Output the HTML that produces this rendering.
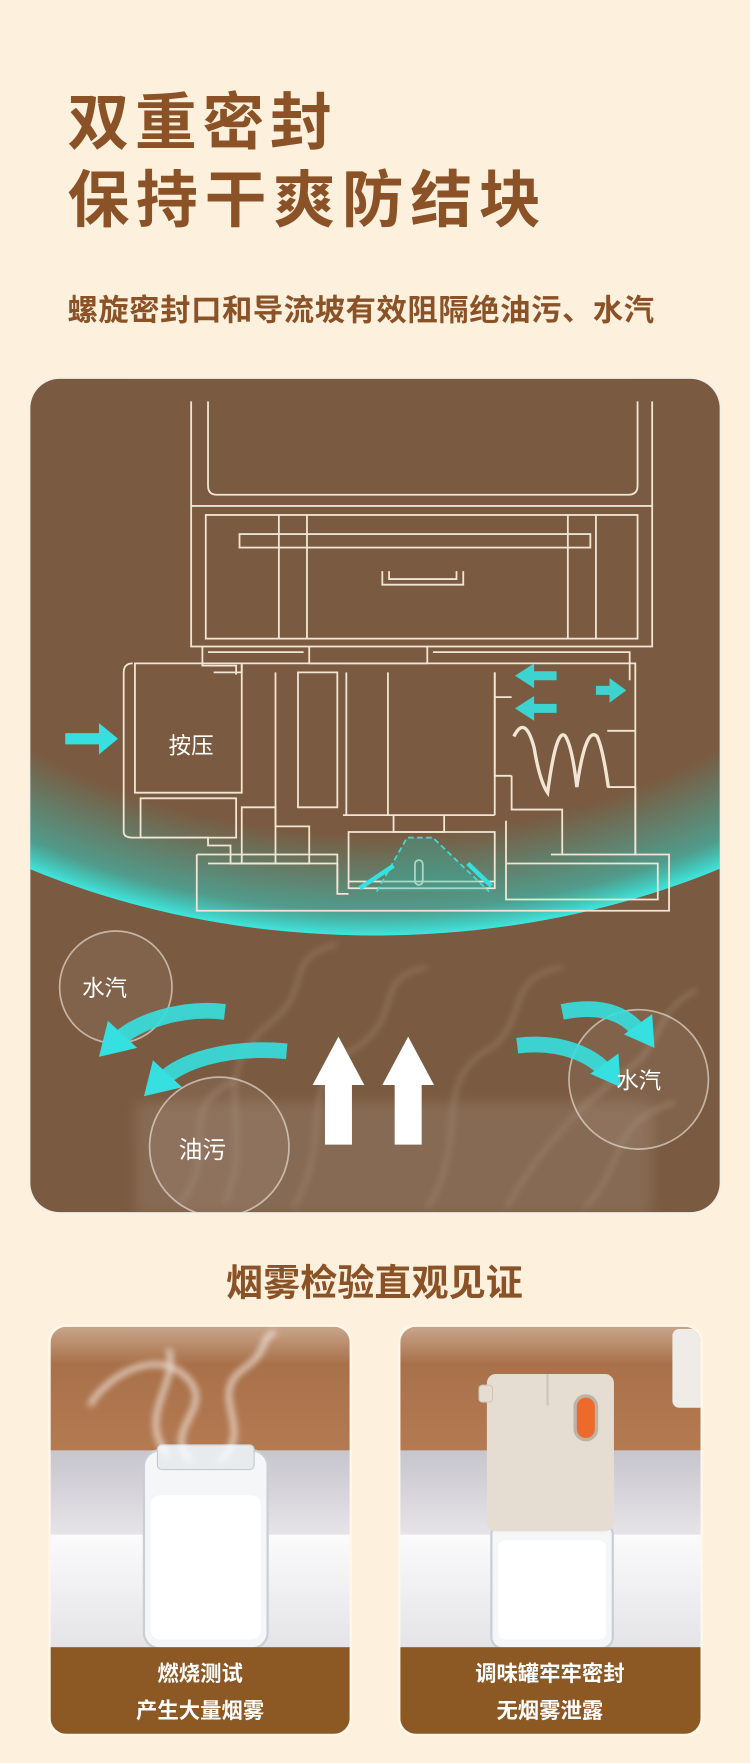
<!DOCTYPE html>
<html><head><meta charset="utf-8"><style>
html,body{margin:0;padding:0;background:#fdf1de;}
svg{display:block;}
text{font-family:"Liberation Sans","Noto Sans CJK SC",sans-serif;}
</style></head><body>
<svg width="750" height="1763" viewBox="0 0 667 1568" preserveAspectRatio="none" xmlns="http://www.w3.org/2000/svg">
<defs>
<radialGradient id="glow" cx="50%" cy="50%" r="50%">
<stop offset="0.8" stop-color="#2fd0c8" stop-opacity="0"/>
<stop offset="0.95" stop-color="#2fd0c8" stop-opacity="0.55"/>
<stop offset="1" stop-color="#3fe6dc" stop-opacity="1"/>
</radialGradient>
<linearGradient id="wood" x1="0" y1="0" x2="0" y2="1">
<stop offset="0" stop-color="#c8a58a"/><stop offset="0.3" stop-color="#a9714a"/><stop offset="1" stop-color="#b47a52"/>
</linearGradient>
<linearGradient id="wall" x1="0" y1="0" x2="0" y2="1">
<stop offset="0" stop-color="#c7c5cd"/><stop offset="1" stop-color="#e6e4e8"/>
</linearGradient>
<linearGradient id="table" x1="0" y1="0" x2="0" y2="1">
<stop offset="0" stop-color="#fbfbfc"/><stop offset="1" stop-color="#e2e1e4"/>
</linearGradient>
<filter id="blur"><feGaussianBlur stdDeviation="3"/></filter>
<filter id="blur2"><feGaussianBlur stdDeviation="6"/></filter>
<clipPath id="pc"><rect x="27" y="337" width="613" height="741" rx="26"/></clipPath>
<clipPath id="c1"><rect x="45" y="1180" width="266" height="362" rx="14"/></clipPath>
<clipPath id="c2"><rect x="356" y="1180" width="267" height="362" rx="14"/></clipPath>
</defs>
<rect width="667" height="1568" fill="#fdf1de"/>
<text x="60" y="128" font-size="55" font-weight="bold" fill="#8a5226" letter-spacing="5">双重密封</text>
<text x="60" y="197" font-size="55" font-weight="bold" fill="#8a5226" letter-spacing="6">保持干爽防结块</text>
<text x="60" y="285" font-size="27" font-weight="bold" fill="#8a5226" letter-spacing="0.5">螺旋密封口和导流坡有效阻隔绝油污、水汽</text>

<!-- panel -->
<rect x="25" y="335" width="617" height="745" rx="28" fill="#f4f0e4"/>
<rect x="27" y="337" width="613" height="741" rx="26" fill="#7a5a40"/>
<g clip-path="url(#pc)">
<ellipse cx="333" cy="380" rx="620" ry="452" fill="url(#glow)"/>
<g fill="none" stroke="#f1e6d6" stroke-width="1.6">
<path d="M170 357 V450 M580 357 V450"/>
<path d="M185 357 V432 Q185 440 193 440 H559 Q567 440 567 432 V357"/>
<rect x="170" y="450" width="410" height="125"/>
<rect x="183" y="458" width="384" height="110"/>
<rect x="213" y="475" width="312" height="12"/>
<path d="M248 458 V568 M273 458 V568 M505 458 V568 M530 458 V568"/>
<path d="M340 508 V520 H412 V508 M346 508 V515 H406 V508"/>
<path d="M180 575 V592 H210 V600 M275 575 V590 H380 V575 M185 580 H270 M385 580 H560 V605"/>
<path d="M215 590 H565 V760"/>
<path d="M190 598 H215 V590"/>
<path d="M120 590 H215 V705 H120 Z M110 598 Q110 590 118 590 M110 598 V740 Q110 745 118 745 H185 V752 H205 V768 H245"/>
<path d="M125 710 H210 V745 H125 Z"/>
<path d="M245 598 V768 M265 598 H300 V718 H265 Z M308 598 V725 M345 598 V725 M305 725 H440 M440 598 V725"/>
<path d="M440 598 V690 H455 M440 620 H455 M455 690 V720 H500 V760"/>
<path d="M540 650 H565 M540 700 H565 V760 H490"/>
<path d="M215 718 H245 V735 H275 V768 H215 Z"/>
<path d="M310 740 H440 V790 H310 Z M310 784 H440"/>
<path d="M175 760 H300 V795 H310 M175 760 V810 H595 V760 H565"/>
<path d="M185 768 H300 V790 M450 768 H585 V800 H450 V730"/>
<path d="M350 725 V740 H395 V725"/>
<rect x="369" y="765" width="7" height="22" rx="3.5"/>
<path d="M457 655 q10 -20 18 10 q5 30 12 40 q8 -60 16 -50 q6 10 10 45 q8 -55 18 -45 q5 10 10 45" stroke-width="3"/>
</g>
<text x="170" y="670" font-size="20" fill="#fff" text-anchor="middle">按压</text>
<g fill="#36e0e0">
<path d="M58 652 H88 V643 L105 657 L88 671 V662 H58 Z"/>
<path d="M495 597 H475 V590 L458 601 L475 612 V605 H495 Z" opacity="0.9"/>
<path d="M495 626 H475 V619 L458 630 L475 641 V634 H495 Z" opacity="0.9"/>
<path d="M530 610 H542 V603 L557 614 L542 625 V618 H530 Z" opacity="0.9"/>
</g>
<path d="M335 793 L362 745 H385 L435 793" fill="#2fb7a8" fill-opacity="0.35" stroke="#3fe0d0" stroke-width="1.5" stroke-dasharray="5 3"/>
<g stroke="#36e0e0" stroke-width="4" fill="#36e0e0">
<path d="M350 770 L320 790" /><path d="M416 768 L437 788"/>
</g>
<!-- smoke -->
<g stroke="#d8cbbd" stroke-width="2" fill="none" opacity="0.45" filter="url(#blur)">
<path d="M200 1070 C230 1000 180 960 240 910 C280 880 250 850 300 840"/>
<path d="M260 1075 C300 1010 260 960 320 930 C360 900 330 870 380 860"/>
<path d="M380 1075 C420 1010 380 960 440 930 C470 900 450 870 500 860"/>
<path d="M450 1075 C480 1020 520 980 560 950 C590 930 580 900 620 880"/>
<path d="M160 1070 C200 1020 150 990 210 960"/>
<path d="M520 1075 C560 1030 540 1000 600 980"/>
</g>
<rect x="120" y="980" width="460" height="100" fill="#a08a78" opacity="0.35" filter="url(#blur2)"/>
<!-- bubbles -->
<g fill="#ffffff" fill-opacity="0.06" stroke="#f5efe8" stroke-opacity="0.6" stroke-width="1.5">
<circle cx="103" cy="878" r="50"/>
<circle cx="195" cy="1020" r="62"/>
<circle cx="568" cy="960" r="62"/>
</g>
<!-- teal curved arrows -->
<g fill="none" stroke="#36e0e0" stroke-width="14" opacity="0.9">
<path d="M200 900 C160 895 120 910 105 925"/>
<path d="M255 935 C200 930 160 945 145 960"/>
<path d="M500 900 C540 892 560 905 570 920"/>
<path d="M460 930 C500 925 530 940 540 955"/>
</g>
<g fill="#36e0e0">
<path d="M88 940 L96 908 L122 932 Z"/>
<path d="M128 975 L136 943 L162 967 Z"/>
<path d="M582 932 L580 902 L555 920 Z"/>
<path d="M552 967 L550 937 L525 955 Z"/>
</g>
<text x="93" y="886" font-size="20" fill="#fff" text-anchor="middle">水汽</text>
<text x="180" y="1030" font-size="21" fill="#fff" text-anchor="middle">油污</text>
<text x="568" y="968" font-size="20" fill="#fff" text-anchor="middle">水汽</text>
<!-- white arrows -->
<g fill="#ffffff">
<path d="M289 1018 V965 H278 L301 922 L324 965 H313 V1018 Z"/>
<path d="M351 1018 V965 H340 L363 922 L386 965 H375 V1018 Z"/>
</g>
</g>

<text x="333" y="1152" font-size="33" font-weight="bold" fill="#8a5226" text-anchor="middle">烟雾检验直观见证</text>

<!-- card 1 -->
<rect x="43" y="1178" width="270" height="366" rx="15" fill="#fff7ea"/>
<g clip-path="url(#c1)">
<rect x="45" y="1180" width="266" height="110" fill="url(#wood)"/>
<rect x="45" y="1290" width="266" height="75" fill="url(#wall)"/>
<rect x="45" y="1365" width="266" height="110" fill="url(#table)"/>
<rect x="128" y="1290" width="110" height="176" rx="14" fill="#f4f6f8" stroke="#c9cfd4" stroke-width="2"/>
<rect x="134" y="1330" width="98" height="128" rx="8" fill="#ffffff"/>
<rect x="140" y="1285" width="86" height="22" rx="4" fill="#e7ebee" stroke="#c4cace"/>
<g stroke="#ffffff" stroke-width="4" fill="none" opacity="0.8" filter="url(#blur)">
<path d="M170 1300 C140 1270 200 1250 160 1220 C130 1200 90 1230 80 1250"/>
<path d="M195 1300 C230 1270 180 1240 220 1215 C240 1200 230 1190 245 1185"/>
<path d="M150 1295 C120 1260 160 1230 150 1200"/>
</g>
<rect x="45" y="1465" width="266" height="80" fill="#8c5824"/>
</g>
<text x="178" y="1495" font-size="19" font-weight="bold" fill="#fff" text-anchor="middle">燃烧测试</text>
<text x="178" y="1528" font-size="19" font-weight="bold" fill="#fff" text-anchor="middle">产生大量烟雾</text>

<!-- card 2 -->
<rect x="354" y="1178" width="271" height="366" rx="15" fill="#fff7ea"/>
<g clip-path="url(#c2)">
<rect x="356" y="1180" width="267" height="110" fill="url(#wood)"/>
<rect x="356" y="1290" width="267" height="75" fill="url(#wall)"/>
<rect x="356" y="1365" width="267" height="110" fill="url(#table)"/>
<rect x="598" y="1182" width="30" height="70" rx="6" fill="#efece8"/>
<rect x="437" y="1355" width="108" height="111" rx="10" fill="#f4f6f8" stroke="#c9cfd4" stroke-width="2"/>
<rect x="443" y="1370" width="96" height="88" rx="6" fill="#ffffff"/>
<rect x="433" y="1222" width="113" height="140" rx="8" fill="#e6ddd2"/>
<rect x="426" y="1232" width="12" height="15" rx="3" fill="#e6ddd2" stroke="#cfc5b8"/>
<path d="M487 1222 V1250" stroke="#cfc5b8" stroke-width="2"/>
<rect x="510" y="1240" width="22" height="42" rx="11" fill="#bdb2a6"/>
<rect x="513" y="1243" width="16" height="36" rx="8" fill="#ee6a2c"/>
<rect x="356" y="1465" width="267" height="80" fill="#8c5824"/>
</g>
<text x="489" y="1495" font-size="19" font-weight="bold" fill="#fff" text-anchor="middle">调味罐牢牢密封</text>
<text x="489" y="1528" font-size="19" font-weight="bold" fill="#fff" text-anchor="middle">无烟雾泄露</text>
</svg>
</body></html>
